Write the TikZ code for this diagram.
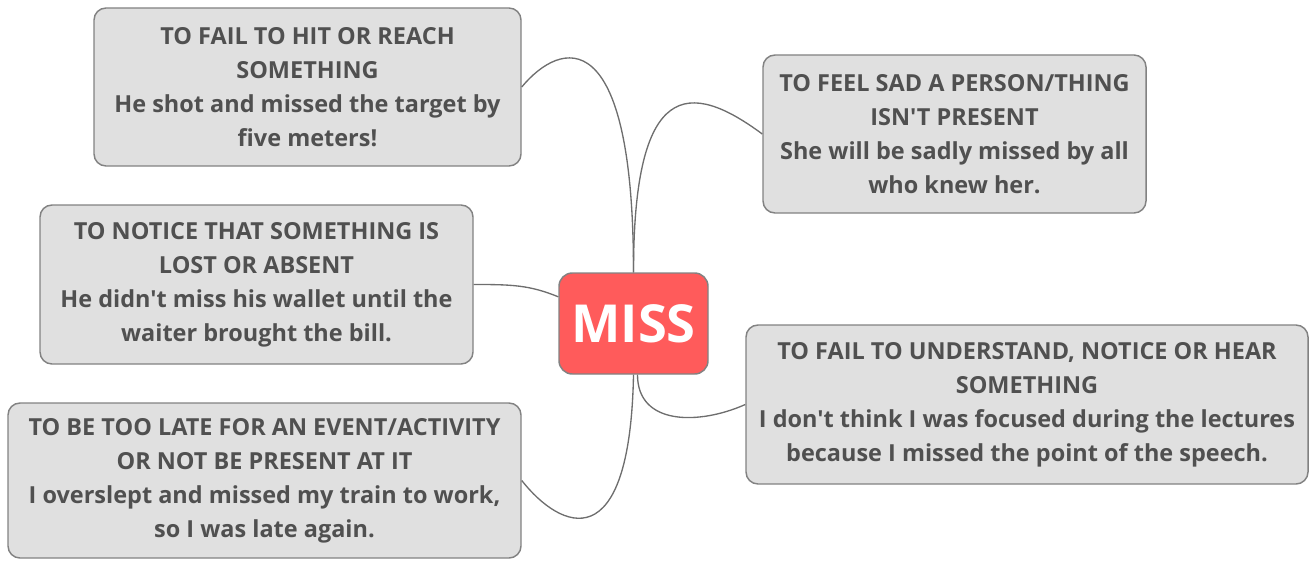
\documentclass[tikz,border=0pt]{standalone}
\usepackage{fontspec}
\setmainfont{Open Sans}[Ligatures=TeXOff]
\begin{document}
\definecolor{boxfill}{HTML}{E0E0E0}
\definecolor{boxline}{HTML}{828282}
\definecolor{boxtext}{HTML}{505050}
\definecolor{linkline}{HTML}{6E6E6E}
\definecolor{mainfill}{HTML}{FF5B5B}
\begin{tikzpicture}[x=0.75pt,y=-0.75pt,
  topic/.style={draw=boxline,line width=1.1pt,fill=boxfill,rounded corners=9pt,
    inner sep=0pt,align=center,text=boxtext,
    font=\fontsize{17.6}{25.5}\selectfont\bfseries},
  central/.style={draw=boxline,line width=1.1pt,fill=mainfill,rounded corners=10pt,
    inner sep=0pt,text=white,minimum width=111.75pt,minimum height=75.75pt,
    font=\fontsize{39.3}{40}\selectfont\bfseries},
  link/.style={draw=linkline,line width=1pt}]
\useasboundingbox (0,0) rectangle (1312,560);

\node[central] (miss) at (633.5,323.5) {MISS};

\node[topic,minimum width=320.25pt,minimum height=118.5pt] (hit) at (307.5,87)
  {TO FAIL TO HIT OR REACH\\SOMETHING\\He shot and missed the target by\\five meters!};
\node[topic,minimum width=287.25pt,minimum height=118.5pt] (sad) at (954.5,134)
  {TO FEEL SAD A PERSON/THING\\ISN'T PRESENT\\She will be sadly missed by all\\who knew her.};
\node[topic,minimum width=324.75pt,minimum height=119.25pt] (notice) at (256.5,284.5)
  {TO NOTICE THAT SOMETHING IS\\LOST OR ABSENT\\He didn't miss his wallet until the\\waiter brought the bill.};
\node[topic,minimum width=421.5pt,minimum height=119.25pt] (understand) at (1027,404.5)
  {TO FAIL TO UNDERSTAND, NOTICE OR HEAR\\SOMETHING\\I don't think I was focused during the lectures\\because I missed the point of the speech.};
\node[topic,minimum width=384.75pt,minimum height=116.25pt] (late) at (264.5,480.5)
  {TO BE TOO LATE FOR AN EVENT/ACTIVITY\\OR NOT BE PRESENT AT IT\\I overslept and missed my train to work,\\so I was late again.};

% curved links from the central topic
\draw[link] (miss.north) .. controls +(0,-253) and +(39,-47) .. (hit.east);
\draw[link] (miss.north) .. controls +(0,-193) and +(-73,-54) .. (sad.west);
\draw[link] ([yshift=20pt]miss.west) .. controls +(-29,-12) and +(37,0) .. (notice.east);
\draw[link] ([xshift=3pt]miss.south) .. controls +(0,51) and +(-46,20.5) .. (understand.west);
\draw[link] (miss.south) .. controls +(-3.5,186) and +(39,49.5) .. (late.east);
\end{tikzpicture}
\end{document}
